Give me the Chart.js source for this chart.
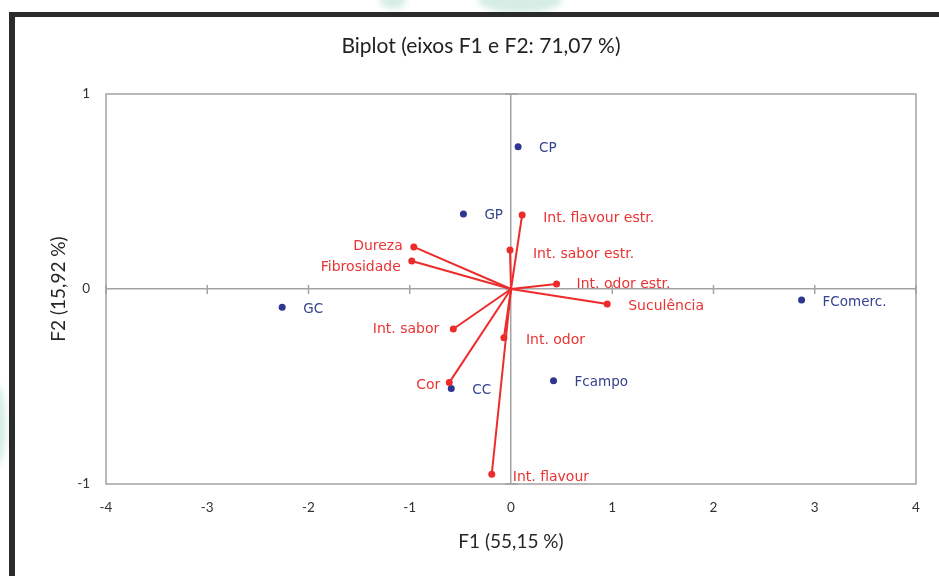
<!DOCTYPE html>
<html>
<head>
<meta charset="utf-8">
<script src="https://cdn.jsdelivr.net/npm/chart.js@4.4.1/dist/chart.umd.min.js"></script>
<style>
html, body { margin: 0; padding: 0; background: #fff; }
#wrap { position: relative; width: 939px; height: 576px; overflow: hidden; background: #fff; }
.frame { position: absolute; left: 9px; top: 12px; width: 1000px; height: 700px;
         border-top: 5px solid #2b2b2b; border-left: 6px solid #2b2b2b; }
.blob { position: absolute; border-radius: 50%; background: #d5ede4; filter: blur(3px); }
canvas { position: absolute; left: 0; top: 0; }
</style>
</head>
<body>
<div id="wrap">
  <div class="blob" style="left:380px;top:-8px;width:26px;height:17px"></div>
  <div class="blob" style="left:478px;top:-14px;width:84px;height:27px"></div>
  <div class="blob" style="left:-12px;top:385px;width:18px;height:80px"></div>
  <div class="frame"></div>
  <canvas id="biplot" width="939" height="576"></canvas>
</div>
<script>
// observations (blue points)
var obsNames = ['CP', 'GP', 'GC', 'CC', 'Fcampo', 'FComerc.'];
var obsF1 = [0.07, -0.47, -2.26, -0.59, 0.42, 2.87];
var obsF2 = [0.73, 0.385, -0.093, -0.51, -0.47, -0.057];

// variables (red vectors from the origin)
var varNames = ['Int. flavour estr.', 'Int. sabor estr.', 'Int. odor estr.', 'Suculência',
                'Dureza', 'Fibrosidade', 'Int. sabor', 'Cor', 'Int. odor', 'Int. flavour'];
var varF1 = [0.11, -0.01, 0.45, 0.95, -0.96, -0.98, -0.57, -0.61, -0.07, -0.19];
var varF2 = [0.38, 0.20, 0.026, -0.077, 0.216, 0.144, -0.205, -0.48, -0.25, -0.95];

var xTicks = [-4, -3, -2, -1, 0, 1, 2, 3, 4];
var yTicks = [-1, 0, 1];

// label placement (pixels from the point)
var varLabelPos = [[21, 3, 'left'], [23, 4, 'left'], [20, 0, 'left'], [21, 2, 'left'],
                   [-11, -1, 'right'], [-11, 6, 'right'], [-14, 0, 'right'], [-9, 3, 'right'],
                   [22, 3, 'left'], [21, 3, 'left']];

var BLUE = '#2e3790';
var RED = '#ee2b2b';
var AXIS = '#a3a3a3';
var FONT = 'Lato';

var datasets = [];
varNames.forEach(function(name, i) {
    datasets.push({
        label: name,
        data: [{x: 0, y: 0}, {x: varF1[i], y: varF2[i]}],
        showLine: true,
        borderColor: RED,
        backgroundColor: RED,
        borderWidth: 2,
        pointRadius: function(c) { return c.dataIndex === 0 ? 0 : 3.5; },
        pointBorderWidth: 0
    });
});
datasets.push({
    label: 'obs',
    data: obsF1.map(function(v, i) { return {x: v, y: obsF2[i]}; }),
    backgroundColor: BLUE,
    borderColor: BLUE,
    pointRadius: 3.5,
    pointBorderWidth: 0
});

var biplotExtras = {
    id: 'biplotExtras',
    beforeDatasetsDraw: function(chart) {
        var c = chart.ctx, a = chart.chartArea;
        var xs = chart.scales.x, ys = chart.scales.y;
        var x0 = xs.getPixelForValue(0), y0 = ys.getPixelForValue(0);
        c.save();
        c.strokeStyle = AXIS;
        c.lineWidth = 1.5;
        c.strokeRect(a.left, a.top, a.right - a.left, a.bottom - a.top);
        c.beginPath();
        xTicks.forEach(function(t) {
            var px = xs.getPixelForValue(t);
            c.moveTo(px, y0 - 4); c.lineTo(px, y0 + 5);
        });
        yTicks.forEach(function(t) {
            var py = ys.getPixelForValue(t);
            c.moveTo(x0 - 6, py); c.lineTo(x0 + 7, py);
        });
        c.stroke();
        c.restore();
    },
    afterDatasetsDraw: function(chart) {
        var c = chart.ctx;
        var xs = chart.scales.x, ys = chart.scales.y;
        c.save();
        c.textBaseline = 'middle';
        c.font = '13.5px "DejaVu Sans"';
        c.fillStyle = '#36438f';
        c.textAlign = 'left';
        obsNames.forEach(function(n, i) {
            c.fillText(n, xs.getPixelForValue(obsF1[i]) + 21, ys.getPixelForValue(obsF2[i]) + 2);
        });
        c.font = '14px "DejaVu Sans"';
        c.fillStyle = '#ea3333';
        varNames.forEach(function(n, i) {
            var p = varLabelPos[i];
            c.textAlign = p[2];
            c.fillText(n, xs.getPixelForValue(varF1[i]) + p[0], ys.getPixelForValue(varF2[i]) + p[1]);
        });
        c.restore();
    }
};

var ctx = document.getElementById('biplot').getContext('2d');
var biplotChart = new Chart(ctx, {
    type: 'scatter',
    data: { datasets: datasets },
    options: {
        responsive: false,
        animation: false,
        devicePixelRatio: 1,
        layout: { padding: { left: 46, right: 23, top: 0, bottom: 18 } },
        scales: {
            x: {
                min: -4, max: 4,
                afterFit: function(s) { s.height = 74; },
                afterBuildTicks: function(s) { s.ticks = xTicks.map(function(v) { return {value: v}; }); },
                ticks: { padding: 16, color: '#333', font: { family: FONT, size: 13.5 } },
                grid: {
                    drawTicks: false, lineWidth: 1.5,
                    color: function(c) { return c.tick && c.tick.value === 0 ? AXIS : 'rgba(0,0,0,0)'; }
                },
                border: { display: false },
                title: { display: true, text: 'F1 (55,15 %)', color: '#262626',
                         font: { family: FONT, size: 19 }, padding: { top: 0, bottom: 5 } }
            },
            y: {
                min: -1, max: 1,
                afterFit: function(s) { s.width = 60; },
                afterBuildTicks: function(s) { s.ticks = yTicks.map(function(v) { return {value: v}; }); },
                ticks: { padding: 16, color: '#333', font: { family: FONT, size: 13.5 } },
                grid: {
                    drawTicks: false, lineWidth: 1.5,
                    color: function(c) { return c.tick && c.tick.value === 0 ? AXIS : 'rgba(0,0,0,0)'; }
                },
                border: { display: false },
                title: { display: true, text: 'F2 (15,92 %)', color: '#262626',
                         font: { family: FONT, size: 19 }, padding: { top: 1, bottom: 0 } }
            }
        },
        plugins: {
            legend: { display: false },
            tooltip: { enabled: false },
            title: {
                display: true,
                text: 'Biplot (eixos F1 e F2: 71,07 %)',
                color: '#222',
                font: { family: FONT, size: 21, weight: 'normal' },
                padding: { top: 34, bottom: 34.8 }
            }
        }
    },
    plugins: [biplotExtras]
});
</script>
</body>
</html>
